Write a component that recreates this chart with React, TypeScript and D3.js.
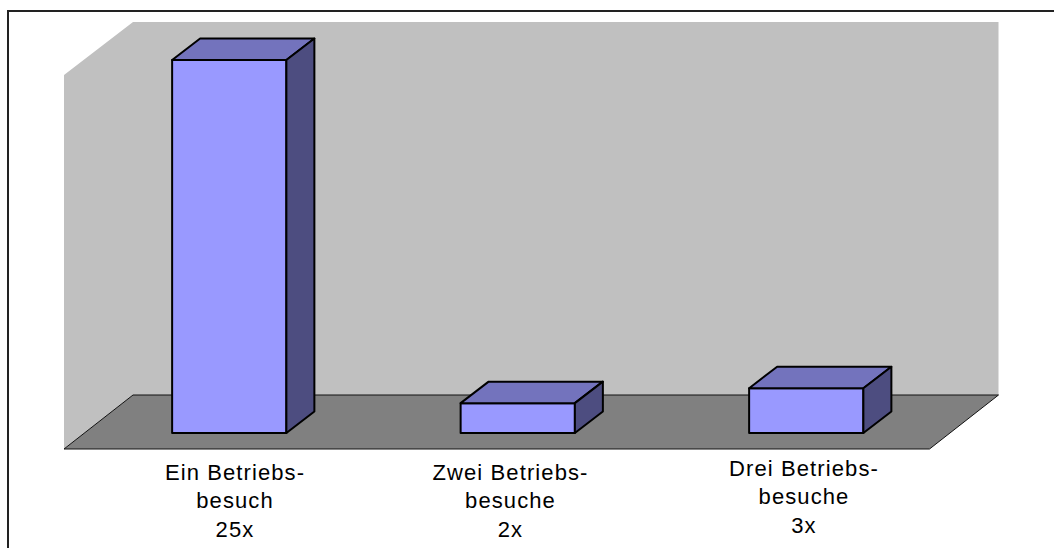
import React from "react";
import * as d3 from "d3";

const categories = ["Ein Betriebsbesuch", "Zwei Betriebsbesuche", "Drei Betriebsbesuche"];
const visits = [25, 2, 3];
const labelLines = [
  ["Ein Betriebs-", "besuch", "25x"],
  ["Zwei Betriebs-", "besuche", "2x"],
  ["Drei Betriebs-", "besuche", "3x"],
];
const labelCenters = [235, 510.5, 804];
const labelBaselines = [480, 480, 476];

const W = 1054;
const H = 549;
const depthX = 28;
const depthY = 21.5;
const wallDX = 69;
const wallDY = 54;
const x0 = 64;
const floorW = 865.5;
const yBase = 433;
const yTop = 60;

const x = d3
  .scaleBand<string>()
  .domain(categories)
  .range([x0 + 21, x0 + 21 + floorW])
  .paddingInner(0.604)
  .paddingOuter(0.302);
const y = d3.scaleLinear().domain([0, 25]).range([yBase, yTop]);

const poly = (pts: [number, number][]) => {
  const l = d3.line();
  return l(pts)! + "Z";
};

export default function App() {
  const floorFront = 449;
  const floorBack = floorFront - wallDY;
  const wallTop = 22;
  return (
    <svg
      width={W}
      height={H}
      viewBox={`0 0 ${W} ${H}`}
      style={{ position: "absolute", left: 0, top: 0, background: "#fff" }}
    >
      <path d={`M8 ${H - 1}V11H${W}`} fill="none" stroke="#222" strokeWidth={2} />
      <path
        d={poly([
          [x0, floorFront],
          [x0, wallTop + wallDY - 1],
          [x0 + wallDX, wallTop],
          [x0 + wallDX + floorW, wallTop],
          [x0 + wallDX + floorW, floorBack],
          [x0 + wallDX, floorBack],
        ])}
        fill="#c0c0c0"
      />
      <path
        d={poly([
          [x0, floorFront],
          [x0 + wallDX, floorBack],
          [x0 + wallDX + floorW, floorBack],
          [x0 + floorW, floorFront],
        ])}
        fill="#808080"
        stroke="#111"
        strokeWidth={1}
      />
      {categories.map((c, i) => {
        const l = x(c)!;
        const r = l + x.bandwidth();
        const t = y(visits[i]);
        const b = y(0);
        const stroke = { stroke: "#000", strokeWidth: 2, strokeLinejoin: "round" as const };
        return (
          <g key={c}>
            <path
              d={poly([
                [l, t],
                [r, t],
                [r, b],
                [l, b],
              ])}
              fill="#9999ff"
              {...stroke}
            />
            <path
              d={poly([
                [l, t],
                [l + depthX, t - depthY],
                [r + depthX, t - depthY],
                [r, t],
              ])}
              fill="#7373bd"
              {...stroke}
            />
            <path
              d={poly([
                [r, t],
                [r + depthX, t - depthY],
                [r + depthX, b - depthY],
                [r, b],
              ])}
              fill="#4d4d80"
              {...stroke}
            />
          </g>
        );
      })}
      {labelLines.map((lines, i) => (
        <text
          key={i}
          textAnchor="middle"
          fontFamily="'Liberation Sans', Arial, sans-serif"
          fontSize={22}
          letterSpacing={1.1}
          fill="#000"
        >
          {lines.map((s, j) => (
            <tspan key={j} x={labelCenters[i]} y={labelBaselines[i] + j * 28.3}>
              {s}
            </tspan>
          ))}
        </text>
      ))}
    </svg>
  );
}
